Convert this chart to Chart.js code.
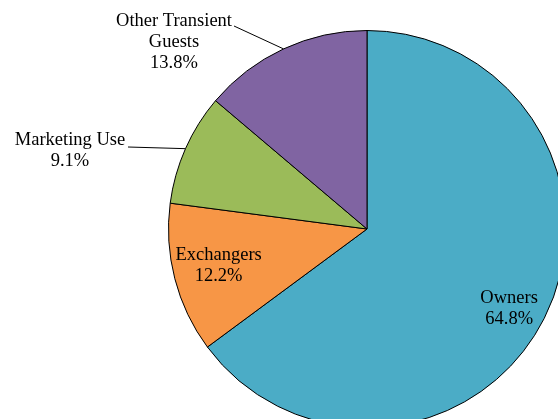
<!DOCTYPE html>
<html>
<head>
<meta charset="utf-8">
<script src="https://cdn.jsdelivr.net/npm/chart.js@4"></script>
<style>
  html, body { margin: 0; padding: 0; overflow: hidden; background: #fff; width: 558px; height: 419px; }
  #wrap { position: absolute; left: 0; top: 0; width: 600px; height: 460px; }
</style>
</head>
<body>
<div id="wrap"><canvas id="c"></canvas></div>
<script>
const categories = ["Owners", "Exchangers", "Marketing Use", "Other Transient Guests"];
const shares = [64.8, 12.2, 9.1, 13.8];
const labelLines = [["Owners"], ["Exchangers"], ["Marketing Use"], ["Other Transient", "Guests"]];
const colors = ["#4BACC6", "#F79646", "#9BBB59", "#8064A2"];

// label placement: inside (fraction of radius) or outside with anchor point for leader line
const placement = [
  { inside: true, frac: 0.82, dAng: 2.4 },
  { inside: true, frac: 0.77, dAng: 0.6 },
  { inside: false, lineEnd: [128, 147], text: [70, 140] },
  { inside: false, lineEnd: [234, 26], text: [174, 21] }
];

const labelPlugin = {
  id: 'pieLabels',
  afterDraw(chart) {
    const ctx = chart.ctx;
    const meta = chart.getDatasetMeta(0);
    ctx.save();
    ctx.font = '18.5px "Liberation Serif", "Times New Roman", serif';
    ctx.fillStyle = '#000';
    ctx.textAlign = 'center';
    ctx.textBaseline = 'middle';
    const lh = 21;
    meta.data.forEach((arc, i) => {
      const p = arc.getProps(['x', 'y', 'startAngle', 'endAngle', 'outerRadius'], true);
      const mid = (p.startAngle + p.endAngle) / 2;
      const lines = labelLines[i].concat([shares[i].toFixed(1) + '%']);
      const pl = placement[i];
      let tx, ty;
      if (pl.inside) {
        const a = mid + (pl.dAng || 0) * Math.PI / 180;
        tx = p.x + Math.cos(a) * p.outerRadius * pl.frac;
        ty = p.y + Math.sin(a) * p.outerRadius * pl.frac - lh * (lines.length - 1) / 2;
      } else {
        const ex = p.x + Math.cos(mid) * p.outerRadius;
        const ey = p.y + Math.sin(mid) * p.outerRadius;
        ctx.strokeStyle = '#000';
        ctx.lineWidth = 1;
        ctx.beginPath();
        ctx.moveTo(pl.lineEnd[0], pl.lineEnd[1]);
        ctx.lineTo(ex, ey);
        ctx.stroke();
        tx = pl.text[0];
        ty = pl.text[1];
      }
      lines.forEach((t, k) => ctx.fillText(t, tx, ty + k * lh));
    });
    ctx.restore();
  }
};

new Chart(document.getElementById('c'), {
  type: 'pie',
  data: {
    labels: categories,
    datasets: [{
      data: shares,
      backgroundColor: colors,
      borderColor: '#000',
      borderWidth: 1
    }]
  },
  options: {
    responsive: true,
    maintainAspectRatio: false,
    animation: false,
    layout: { padding: { left: 168, right: 34, top: 30, bottom: 32 } },
    plugins: { legend: { display: false }, tooltip: { enabled: false } }
  },
  plugins: [labelPlugin]
});
</script>
</body>
</html>
